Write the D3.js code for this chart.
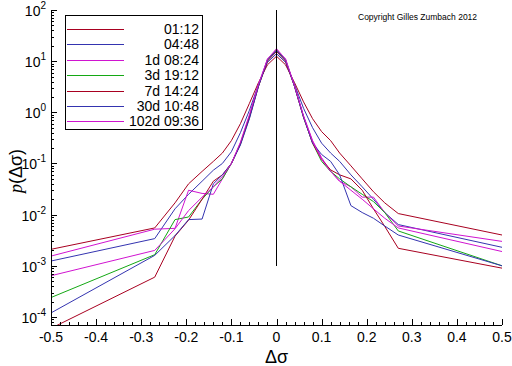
<!DOCTYPE html>
<html>
<head>
<meta charset="utf-8">
<script src="https://cdnjs.cloudflare.com/ajax/libs/d3/7.8.5/d3.min.js"></script>
<style>
  body { margin: 0; background: #fff; }
  text { font-family: "Liberation Sans", Arial, sans-serif; fill: #000; }
</style>
</head>
<body>
<script>
var width = 512;
var height = 366;

// delta sigma grid (bin centers)
var dsig = [-0.5, -0.27, -0.225, -0.195, -0.165, -0.14, -0.12, -0.1, -0.08, -0.06, -0.04, -0.02, 0,
  0.02, 0.04, 0.06, 0.08, 0.1, 0.12, 0.14, 0.165, 0.19, 0.215, 0.24, 0.27, 0.5];

// p(delta sigma) for each horizon
var p0112 = [2.1e-3, 5.5e-3, 0.017, 0.04, 0.07, 0.11, 0.16, 0.28, 0.6, 1.5, 3.8, 8.5, 12.5,
  8.5, 3.8, 1.6, 0.75, 0.42, 0.28, 0.16, 0.09, 0.05, 0.028, 0.017, 0.0105, 4e-3];
var p0448 = [1.24e-3, 3.4e-3, 0.013, 0.025, 0.045, 0.074, 0.1, 0.17, 0.4, 1.1, 3.5, 9.5, 14,
  9.5, 3.5, 1.2, 0.5, 0.25, 0.16, 0.11, 0.06, 0.035, 0.02, 0.011, 6.4e-3, 2.3e-3];
var p1d = [1.55e-3, 5.2e-3, 5.4e-3, 0.03, 0.026, 0.025, 0.05, 0.1, 0.25, 0.85, 3.4, 11, 17,
  11, 3.3, 0.85, 0.28, 0.13, 0.07, 0.045, 0.035, 0.022, 0.022, 0.011, 6e-3, 3e-3];
var p3d = [2.4e-4, 1.65e-3, 8e-3, 9e-3, 0.02, 0.035, 0.05, 0.1, 0.24, 0.8, 3.3, 10.5, 16.5,
  10.5, 3.2, 0.8, 0.25, 0.11, 0.07, 0.05, 0.035, 0.025, 0.018, 0.011, 4.8e-3, 1e-3];
var p7d = [6e-5, 6e-4, 3.8e-3, 7.8e-3, 0.02, 0.045, 0.06, 0.1, 0.24, 0.8, 3.2, 10, 15.5,
  10, 3.2, 0.8, 0.25, 0.12, 0.075, 0.06, 0.05, 0.03, 0.013, 5.9e-3, 2.2e-3, 9e-4];
var p30d = [1.2e-4, 1.6e-3, 3.9e-3, 8e-3, 8.2e-3, 0.04, 0.06, 0.1, 0.23, 0.75, 3.2, 10.5, 16,
  10.5, 3.2, 0.8, 0.25, 0.15, 0.11, 0.06, 0.015, 0.011, 8.5e-3, 6e-3, 4e-3, 1e-3];
var p102d = [6.4e-4, 2e-3, 5.3e-3, 0.012, 0.022, 0.035, 0.055, 0.1, 0.26, 0.9, 3.5, 11, 17.5,
  11, 3.3, 0.85, 0.27, 0.12, 0.07, 0.045, 0.03, 0.02, 0.013, 8.5e-3, 5.5e-3, 1.9e-3];

var labels = ['01:12', '04:48', '1d 08:24', '3d 19:12', '7d 14:24', '30d 10:48', '102d 09:36'];
var colors = ['#a80020', '#3434b0', '#d014d0', '#14a814', '#a80020', '#3434b0', '#d014d0'];
var series = [p0112, p0448, p1d, p3d, p7d, p30d, p102d];

var xTicks = [-0.5, -0.4, -0.3, -0.2, -0.1, 0, 0.1, 0.2, 0.3, 0.4, 0.5];
var yExps = [2, 1, 0, -1, -2, -3, -4];
var zeroLine = [1e-3, 100];

var padL = 51, padR = 502, padT = 10, padB = 325;

var x = d3.scaleLinear().domain([-0.5, 0.5]).range([padL, padR]);
var y = d3.scaleLog().domain([1e-4 * Math.pow(10, -0.157), 100]).range([padB, padT]);

var svg = d3.select('body').append('svg')
  .attr('width', width)
  .attr('height', height);

svg.append('clipPath').attr('id', 'clip')
  .append('rect')
  .attr('x', padL).attr('y', padT)
  .attr('width', padR - padL).attr('height', padB - padT);

//curves
var line = d3.line()
  .x(function(d){ return x(d[0]); })
  .y(function(d){ return y(d[1]); });

var plot = svg.append('g').attr('clip-path', 'url(#clip)');

plot.selectAll('path.curve')
  .data(series)
  .enter().append('path')
  .attr('class', 'curve')
  .attr('fill', 'none')
  .attr('stroke', function(d, i){ return colors[i]; })
  .attr('stroke-width', 1)
  .attr('d', function(d){ return line(d.map(function(v, i){ return [dsig[i], v]; })); });

// vertical line at zero
plot.append('path')
  .attr('stroke', '#000')
  .attr('stroke-width', 1)
  .attr('shape-rendering', 'crispEdges')
  .attr('d', line(zeroLine.map(function(v){ return [0, v]; })));

//axes, ticks pointing inside
var xMinor = d3.range(-50, 51, 2).map(function(v){ return v / 100; });
var gx = svg.append('g').attr('transform', 'translate(0,' + padB + ')')
  .call(d3.axisTop(x).tickValues(xMinor).tickSize(3).tickFormat(''));
gx.append('g').call(d3.axisTop(x).tickValues(xTicks).tickSize(6).tickFormat(''));
gx.selectAll('path, line').attr('stroke', '#000').attr('shape-rendering', 'crispEdges');
gx.selectAll('.domain').attr('d', 'M' + padL + ',0.5H' + padR);

svg.selectAll('text.xt')
  .data(xTicks)
  .enter().append('text')
  .attr('class', 'xt')
  .attr('x', function(d){ return x(d); })
  .attr('y', 342)
  .attr('text-anchor', 'middle')
  .attr('font-size', 14)
  .text(function(d){ return d === 0 ? '0' : (d < 0 ? '-' : '') + Math.abs(d).toFixed(1); });

var yMinor = [];
for (var e = -5; e < 2; e++) {
  for (var m = 2; m < 10; m++) {
    var v = m * Math.pow(10, e);
    if (v >= y.domain()[0] && v <= 100) yMinor.push(v);
  }
}
var gy = svg.append('g').attr('transform', 'translate(' + padL + ',0)')
  .call(d3.axisRight(y).tickValues(yMinor).tickSize(3).tickFormat(''));
gy.append('g').call(d3.axisRight(y).tickValues(yExps.map(function(e){ return Math.pow(10, e); })).tickSize(6).tickFormat(''));
gy.selectAll('path, line').attr('stroke', '#000').attr('shape-rendering', 'crispEdges');
gy.selectAll('.domain').attr('d', 'M0.5,' + padT + 'V' + padB);

var yl = svg.selectAll('text.yt')
  .data(yExps)
  .enter().append('text')
  .attr('class', 'yt')
  .attr('x', 46)
  .attr('y', function(d){ return y(Math.pow(10, d)) + 6; })
  .attr('text-anchor', 'end')
  .attr('font-size', 14);
yl.append('tspan').text('10');
yl.append('tspan').attr('font-size', 10).attr('dy', -7).text(function(d){ return d < 0 ? '-' + (-d) : d; });

// axis titles
svg.append('text')
  .attr('x', x(0))
  .attr('y', 363)
  .attr('text-anchor', 'middle')
  .attr('font-size', 18)
  .text('Δσ');

var yt = svg.append('text')
  .attr('transform', 'translate(22,171) rotate(-90)')
  .attr('text-anchor', 'middle')
  .attr('font-size', 18);
yt.append('tspan').attr('font-family', '"Liberation Serif", serif').attr('font-style', 'italic').text('p');
yt.append('tspan').text('(Δσ)');

//legend
var legend = svg.append('g');
legend.append('rect')
  .attr('x', 65.5).attr('y', 15.5)
  .attr('width', 137).attr('height', 114)
  .attr('fill', '#fff').attr('stroke', '#000')
  .attr('shape-rendering', 'crispEdges');

legend.selectAll('line.key')
  .data(labels)
  .enter().append('line')
  .attr('class', 'key')
  .attr('x1', 67).attr('x2', 124)
  .attr('y1', function(d, i){ return Math.round(29 + i * 15.4) + 0.5; })
  .attr('y2', function(d, i){ return Math.round(29 + i * 15.4) + 0.5; })
  .attr('stroke', function(d, i){ return colors[labels.indexOf(d)]; })
  .attr('stroke-width', 1);

legend.selectAll('text.key')
  .data(labels)
  .enter().append('text')
  .attr('class', 'key')
  .attr('x', 199)
  .attr('y', function(d, i){ return Math.round(29 + i * 15.4) + 5; })
  .attr('text-anchor', 'end')
  .attr('font-size', 14)
  .text(function(d){ return d; });

svg.append('text')
  .attr('x', 358)
  .attr('y', 20)
  .attr('font-size', 8.5)
  .text('Copyright Gilles Zumbach 2012');
</script>
</body>
</html>
